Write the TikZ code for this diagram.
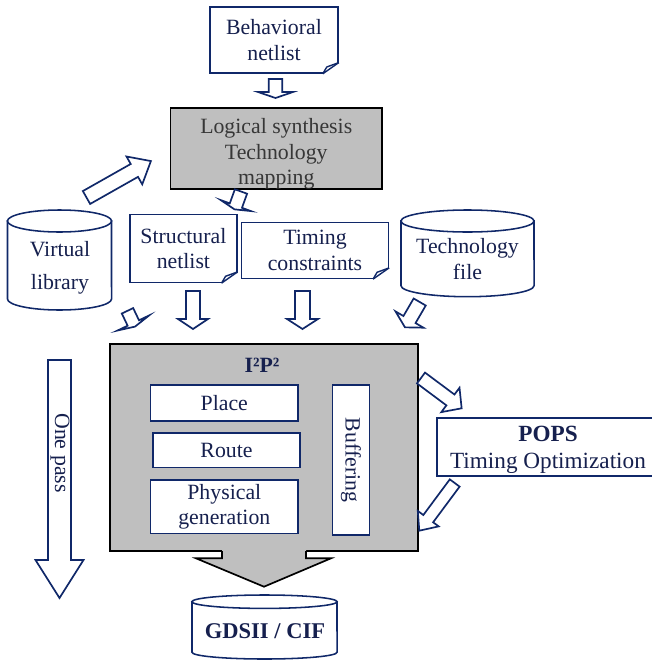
\documentclass[tikz,border=0pt]{standalone}
\usepackage{fontspec}
\setmainfont{Liberation Serif}
\definecolor{navy}{RGB}{16,40,105}
\definecolor{ink}{RGB}{22,32,78}
\definecolor{boxgray}{RGB}{191,191,191}
\definecolor{graytext}{RGB}{55,55,55}
\tikzset{
  box/.style={draw=navy, line width=1.1pt, fill=white, text=ink, align=center, inner sep=0pt},
  docbox/.style={box},
  stepbox/.style={box},
  graybox/.style={draw=black, line width=1.2pt, fill=boxgray, inner sep=0pt, align=center},
  dbline/.style={draw=navy, line width=1.1pt, fill=white},
  dbtext/.style={text=ink, align=center, inner sep=0pt},
  arrowline/.style={draw=navy, line width=1.2pt, fill=white, line join=miter},
  foldline/.style={draw=navy, line width=1pt}
}
% hollow block arrow: name, tail, angle, length, half shaft, half head, head length
\newcommand{\blockarrow}[7]{%
  \coordinate (#1) at #2;
  \draw[arrowline, shift={(#1)}, rotate=#3] (0,-#5) -- ({#4-#7},-#5) -- ({#4-#7},-#6) -- (#4,0)
    -- ({#4-#7},#6) -- ({#4-#7},#5) -- (0,#5) -- cycle;}
% curled corner of a document node
\newcommand{\pagefold}[1]{%
  \fill[white] ([xshift=-0.4cm]#1.south east) -- ([xshift=1pt,yshift=-1pt]#1.south east)
    -- ([yshift=0.28cm]#1.south east) -- cycle;
  \draw[foldline] ([xshift=-0.4cm]#1.south east) -- ([yshift=0.28cm]#1.south east);
  \draw[foldline] ([xshift=-0.4cm]#1.south east) -- ([xshift=-0.3cm,yshift=0.17cm]#1.south east)
    -- ([yshift=0.28cm]#1.south east);}

\begin{document}
\begin{tikzpicture}[x=0.025cm, y=-0.025cm,
  every node/.append style={font=\fontsize{15.5}{18}\selectfont}]
  \useasboundingbox (0,0) rectangle (652,660);

  % documents
  \node[docbox, minimum width=3.2cm, minimum height=1.65cm] (behav) at (274,40) {Behavioral\\netlist};
  \pagefold{behav}
  \node[docbox, minimum width=2.67cm, minimum height=1.7cm] (struct) at (183.4,248.3) {Structural\\netlist};
  \pagefold{struct}
  \node[docbox, minimum width=3.665cm, minimum height=1.39cm] (timing) at (315,250.5) {Timing\\constraints};
  \pagefold{timing}

  % synthesis
  \node[graybox, minimum width=5.29cm, minimum height=2.025cm] (logic) at (276.25,148.5) {};
  \node[dbtext, text=graytext] (logictext) at (276.25,154) {Logical synthesis\\Technology\\mapping};

  % libraries
  \draw[dbline] (7.5,221) -- (7.5,299) arc[start angle=180, end angle=360, x radius=1.3cm, y radius=0.275cm]
    -- (111.5,221) -- cycle;
  \draw[dbline] (59.5,221) ellipse[x radius=1.3cm, y radius=0.275cm];
  \node[dbtext] (vlib) at (60,268) {Virtual\\[0.2cm]library};
  \draw[dbline] (401,221) -- (401,285.7) arc[start angle=180, end angle=360, x radius=1.6625cm, y radius=0.275cm]
    -- (534,221) -- cycle;
  \draw[dbline] (467.5,221) ellipse[x radius=1.6625cm, y radius=0.275cm];
  \node[dbtext] (techfile) at (467.5,259) {Technology\\file};

  % I2P2
  \node[graybox, minimum width=7.7cm, minimum height=5.175cm] (i2p2) at (264,447.5) {};
  \fill[boxgray] (222,549) -- (222,558.3) -- (196,558.3) -- (264,586.7) -- (331,558.3) -- (306,558.3) -- (306,549) -- cycle;
  \draw[black, line width=1.2pt, line join=miter] (222,551) -- (222,558.3) -- (196,558.3) -- (264,586.7)
    -- (331,558.3) -- (306,558.3) -- (306,551);
  \node[text=ink, font=\fontsize{15.5}{18}\selectfont\bfseries] (i2p2label) at (262,365) {I²P²};
  \node[stepbox, minimum width=3.685cm, minimum height=0.9cm] (place) at (224.3,403) {Place};
  \node[stepbox, minimum width=3.675cm, minimum height=0.86cm] (route) at (226.5,450.2) {Route};
  \node[stepbox, minimum width=3.685cm, minimum height=1.33cm] (phys) at (224.3,506.7) {Physical\\generation};
  \node[stepbox, rotate=-90, minimum width=3.75cm, minimum height=0.92cm] (buffer) at (351,460) {Buffering};

  % timing optimization
  \node[box, minimum width=5.55cm, minimum height=1.45cm] (pops) at (548,447) {};
  \node[dbtext, font=\fontsize{16.5}{19}\selectfont] (popstext) at (548,450)
    {\textbf{POPS}\\Timing Optimization};

  % output
  \draw[dbline] (192,601.7) -- (192,652.3) arc[start angle=180, end angle=360, x radius=1.8125cm, y radius=0.1675cm]
    -- (337,601.7) -- cycle;
  \draw[dbline] (264.5,601.7) ellipse[x radius=1.8125cm, y radius=0.1675cm];
  \node[dbtext, font=\fontsize{16}{18}\selectfont\bfseries] (gds) at (265,631) {GDSII / CIF};

  % flow arrows
  \blockarrow{a-behav}{(275.5,79)}{-90}{19}{6.7}{17.5}{6}
  \blockarrow{a-vlib}{(86.5,197.5)}{29.5}{74}{7.4}{16}{19}
  \blockarrow{a-logic}{(241,191.5)}{-110}{19}{6.5}{16}{4}
  \blockarrow{a-vlibdown}{(127.5,310.8)}{-64.5}{17.5}{6.3}{17.5}{4}
  \blockarrow{a-struct}{(193,291)}{-90}{38}{7}{15}{10}
  \blockarrow{a-timing}{(302.5,291)}{-90}{38}{7.5}{15.5}{10}
  \blockarrow{a-tech}{(419.7,302)}{-120.2}{29.3}{7}{16.2}{9}
  \blockarrow{a-topops}{(421,378)}{-36.7}{50.7}{6.75}{15.2}{14}
  \blockarrow{a-frompops}{(454.7,483)}{-126.6}{59.4}{6.1}{13}{15}
  \blockarrow{a-pass}{(59.5,360)}{-90}{238}{11.5}{24}{38}
  \node[dbtext, rotate=-90] (onepass) at (60,453) {One pass};
\end{tikzpicture}
\end{document}
